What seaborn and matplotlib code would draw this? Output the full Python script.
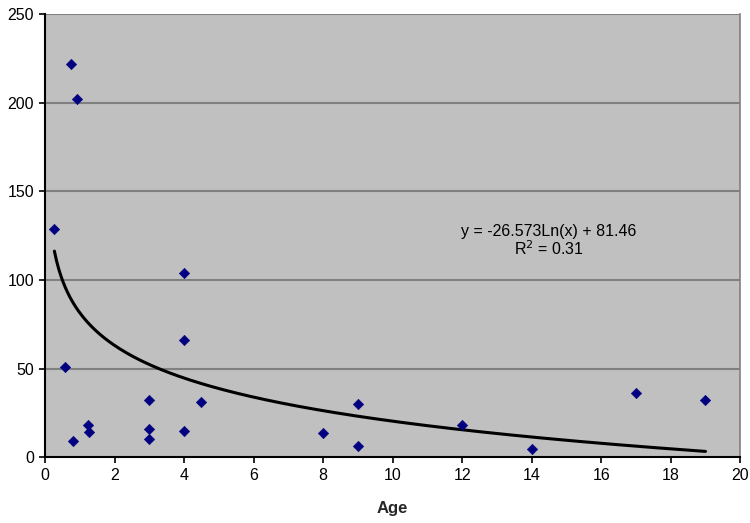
import numpy as np
import pandas as pd
import matplotlib
matplotlib.use("Agg")
import matplotlib.pyplot as plt
import seaborn as sns

age = [0.27, 0.75, 0.92, 0.58, 0.8, 1.25, 1.27, 3, 3, 3, 4, 4, 4, 4.5, 8, 9, 9, 12, 14, 17, 19]
value = [129, 222, 202, 51, 9, 18, 14, 32, 16, 10, 104, 66, 15, 31, 13.5, 30, 6, 18, 4.5, 36, 32]
slope = -26.573
intercept = 81.46
r2 = 0.31
x_ticks = [0, 2, 4, 6, 8, 10, 12, 14, 16, 18, 20]
y_ticks = [0, 50, 100, 150, 200, 250]

sns.set_theme(style="white")
plt.rcParams['font.family'] = ['Liberation Sans', 'DejaVu Sans']

df = pd.DataFrame({"Age": age, "Value": value})
xs = np.linspace(min(age), max(age), 300)
trend = pd.DataFrame({"Age": xs, "Value": slope * np.log(xs) + intercept})

fig = plt.figure(figsize=(7.5, 5.23), dpi=100)
ax = fig.add_axes([0.06, 0.126, 0.927, 0.847])
ax.set_facecolor("#c0c0c0")

for yv in y_ticks[1:]:
    ax.axhline(yv, color="#808080", lw=1.5, zorder=0)

sns.lineplot(data=trend, x="Age", y="Value", ax=ax, color="black", lw=2.2, zorder=2)
sns.scatterplot(data=df, x="Age", y="Value", ax=ax, marker="D", s=28, color="#000080",
                edgecolor="#000080", zorder=3)

ax.set_xlim(0, 20)
ax.set_ylim(0, 250)
ax.set_xticks(x_ticks)
ax.set_yticks(y_ticks)
ax.tick_params(axis="both", direction="out", length=4, width=1.2, color="black",
               labelsize=11.5, pad=4, bottom=True, left=True)
for lab in ax.get_xticklabels() + ax.get_yticklabels():
    lab.set_color("black")

ax.set_xlabel("Age", fontsize=12, fontweight="bold", labelpad=13)
ax.set_ylabel("")

for s in ["left", "bottom"]:
    ax.spines[s].set_color("black")
    ax.spines[s].set_linewidth(1.5)
ax.spines["right"].set_color("#808080")
ax.spines["right"].set_linewidth(1.2)
ax.spines["top"].set_visible(False)

ax.text(14.5, 122, f"y = {slope}Ln(x) + {intercept}\nR$^2$ = {r2}", ha="center", va="center",
        fontsize=11.5, color="black", linespacing=1.0)

fig.savefig("out.png", dpi=100)
